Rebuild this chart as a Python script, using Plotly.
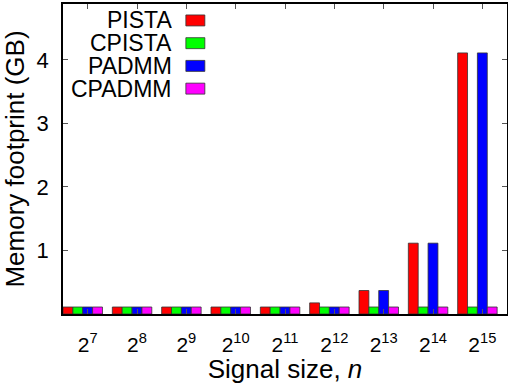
"""Memory footprint per solver vs. signal size, clustered bars."""

import plotly.graph_objects as go

SIZES = ["2<sup>7</sup>", "2<sup>8</sup>", "2<sup>9</sup>", "2<sup>10</sup>", "2<sup>11</sup>",
         "2<sup>12</sup>", "2<sup>13</sup>", "2<sup>14</sup>", "2<sup>15</sup>"]

PISTA = [0.11, 0.11, 0.11, 0.11, 0.11, 0.175, 0.37, 1.115, 4.11]
CPISTA = [0.11, 0.11, 0.11, 0.11, 0.11, 0.11, 0.11, 0.11, 0.11]
PADMM = [0.11, 0.11, 0.11, 0.11, 0.11, 0.11, 0.37, 1.115, 4.11]
CPADMM = [0.11, 0.11, 0.11, 0.11, 0.11, 0.11, 0.11, 0.11, 0.11]

SERIES = [
    ("PISTA", PISTA, "#ff0000"),
    ("CPISTA", CPISTA, "#00ff00"),
    ("PADMM", PADMM, "#0000ff"),
    ("CPADMM", CPADMM, "#ff00ff"),
]

FONT = "Liberation Sans, Arial, Helvetica, sans-serif"
FS = 22
BAR_W = 0.2
OFFSETS = [-0.4, -0.2, 0.0, 0.2]

# plot area in pixels (gnuplot-like frame)
L, R, T, B = 63, 507.5, 3.5, 314.5
PW, PH = R - L, B - T

fig = go.Figure()
idx = list(range(len(SIZES)))
for (name, vals, color), off in zip(SERIES, OFFSETS):
    fig.add_trace(
        go.Bar(
            x=[i + off for i in idx],
            y=vals,
            width=BAR_W,
            name=name,
            marker=dict(color=color, line=dict(color="#333333", width=0.8)),
            showlegend=False,
            hoverinfo="skip",
        )
    )

# gnuplot-style key: text right-aligned, swatch on the right
for k, (name, _, color) in enumerate(SERIES):
    yc = 20 + k * 22.8
    fig.add_annotation(
        xref="paper", yref="paper",
        x=(174 - L) / PW, y=(B - yc) / PH,
        text=name, showarrow=False, xanchor="right", yanchor="middle",
        height=22, valign="middle",
        font=dict(family=FONT, size=23, color="black"),
    )
    fig.add_shape(
        type="rect", xref="paper", yref="paper",
        x0=(186 - L) / PW, x1=(205 - L) / PW,
        y0=(B - yc - 5.5) / PH, y1=(B - yc + 5.5) / PH,
        fillcolor=color, line=dict(color="#333333", width=0.8),
    )

fig.update_layout(
    width=508,
    height=384,
    margin=dict(l=L, r=508 - R, t=T, b=384 - B),
    plot_bgcolor="white",
    paper_bgcolor="white",
    barmode="overlay",
    font=dict(family=FONT, size=FS, color="black"),
    xaxis=dict(
        range=[-0.5, 8.5],
        tickmode="array",
        tickvals=idx,
        ticktext=SIZES,
        tickfont=dict(family=FONT, size=21, color="black"),
        ticks="inside",
        ticklen=5,
        tickcolor="#555555",
        showline=True,
        linecolor="black",
        linewidth=1.5,
        mirror="ticks",
        showgrid=False,
        zeroline=False,
        ticklabelstandoff=11,
        title=dict(text="Signal size, <i>n</i>", standoff=7),
    ),
    yaxis=dict(
        range=[0, 4.88],
        tickvals=[1, 2, 3, 4],
        ticks="inside",
        ticklen=5,
        tickcolor="#555555",
        showline=True,
        linecolor="black",
        linewidth=1.5,
        mirror="ticks",
        showgrid=False,
        zeroline=False,
        ticklabelstandoff=8,
        title=dict(text="Memory footprint (GB)", standoff=6),
    ),
)

fig.write_html(
    "out.html",
    config={"displayModeBar": False},
    post_script="document.body.style.margin='0';",
)
